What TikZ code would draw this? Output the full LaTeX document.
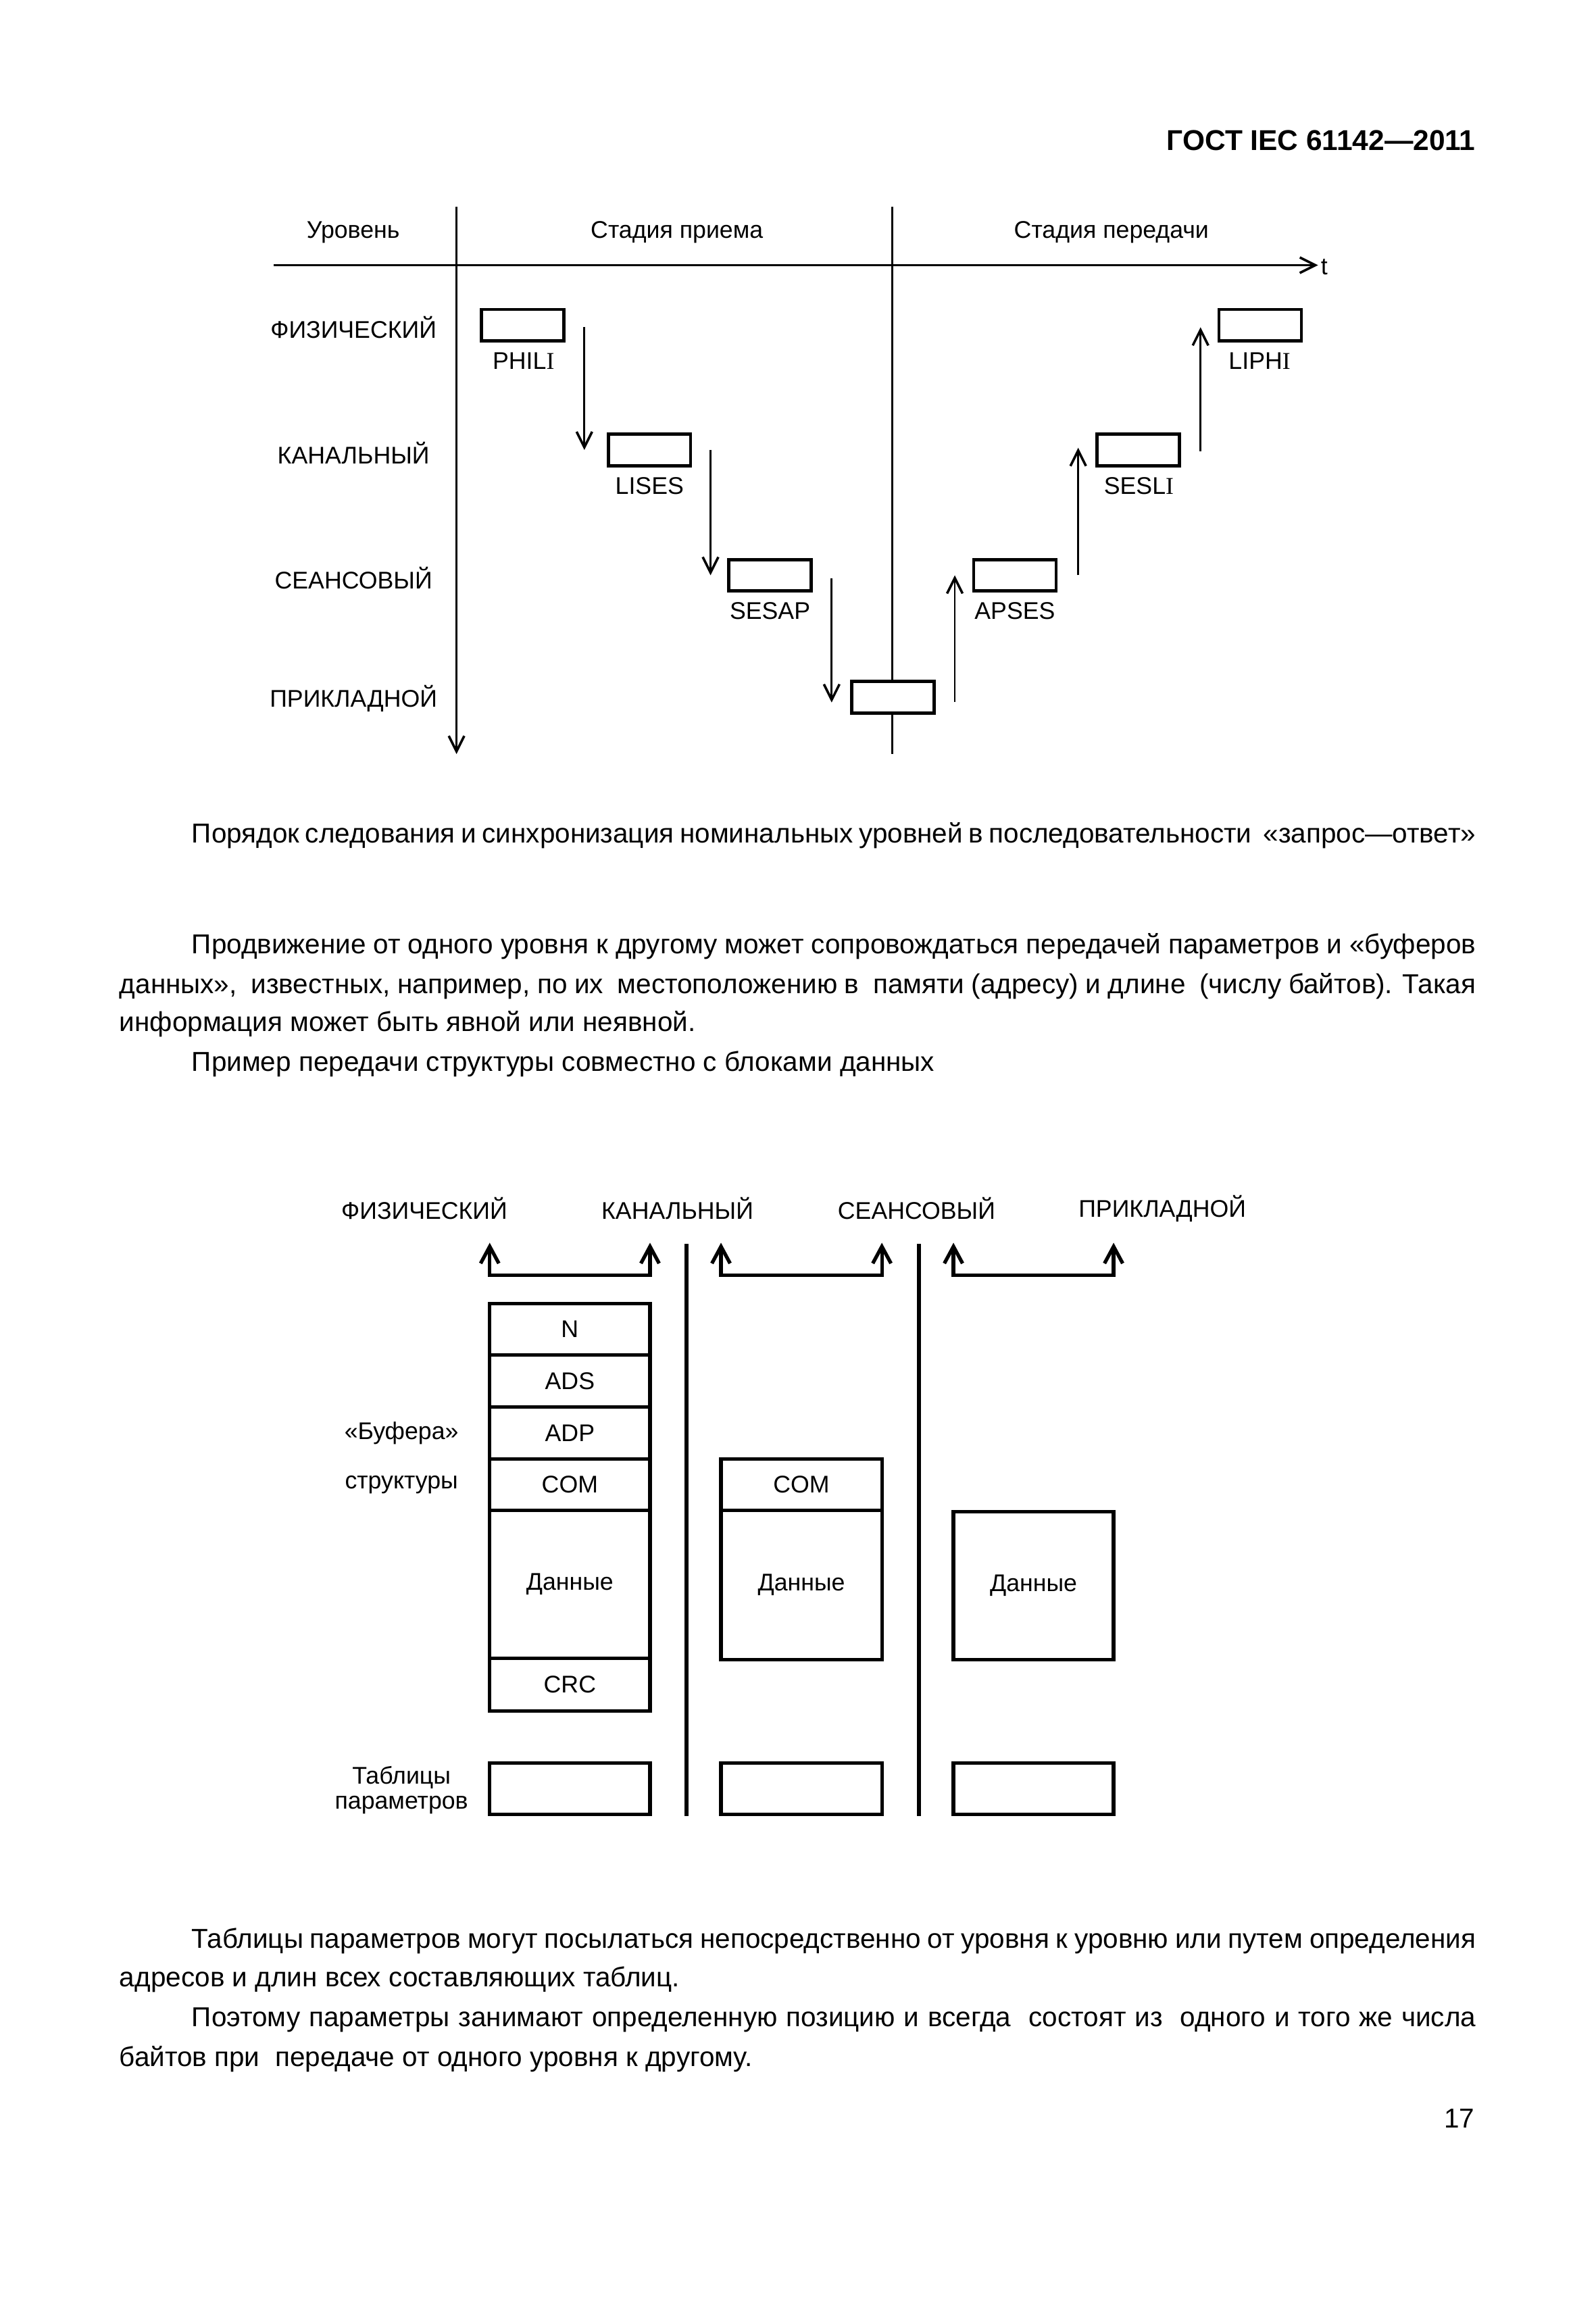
\documentclass[tikz,border=0pt]{standalone}
\usepackage{fontspec}
\setmainfont{Liberation Sans}
\newfontfamily\serI{Liberation Serif}
\usetikzlibrary{arrows.meta,calc}
\newcommand\sI{{\serI I}}
\newcommand\lblfont{\fontsize{9}{10}\selectfont}
\newcommand\bodyfont{\fontsize{10.2}{12}\selectfont}
\newcommand\jline[3]{\makebox[{#1}][s]{#3}}
\begin{document}
\begin{tikzpicture}[x=0.5507pt,y=-0.5507pt,
  lbl/.style={font=\lblfont, inner sep=0pt, outer sep=0pt},
  body/.style={font=\bodyfont, inner sep=0pt, outer sep=0pt, anchor=base west},
  tb/.style={draw, line width=1.2pt, fill=white, inner sep=0pt, outer sep=0pt,
     minimum width={55.8*0.5507pt}, minimum height={21.3*0.5507pt}},
  bx/.style={draw, line width=1.33pt, fill=white, inner sep=0pt, outer sep=0pt,
     minimum width={108.6*0.5507pt}, font=\lblfont},
  ax/.style={line width=0.9pt},
  arr/.style={line width=0.7pt, -{Straight Barb[length=5.8pt,width=5.8pt,line width=0.9pt]}},
  brk/.style={line width=1.33pt, line join=miter,
     {Straight Barb[length=6.3pt,width=6.8pt]}-{Straight Barb[length=6.3pt,width=6.8pt]}},
  sepl/.style={line width=1.45pt}
]
\fill[white] (0,0) rectangle (1081,1568);
\path[use as bounding box] (0,0) rectangle (1081,1568);

% page header
\node[font=\fontsize{10.7}{12}\selectfont\bfseries, inner sep=0pt, anchor=base east] (hdr) at (1000,102) {ГОСТ IEC 61142—2011};

% ---------- top diagram ----------
\coordinate (axL) at (185.6,179.7);
\coordinate (axR) at (893,179.7);
\coordinate (v1t) at (309.3,140);
\coordinate (v1b) at (309.3,511);
\coordinate (v2t) at (604.5,140);
\coordinate (v2b) at (604.5,511);
\draw[ax, -{Straight Barb[length=5.8pt,width=5.8pt]}] (axL) -- (axR);
\node[lbl, anchor=west] (tlab) at (895,181) {t};
\draw[ax, -{Straight Barb[length=5.8pt,width=5.8pt]}] (v1t) -- (v1b);
\draw[ax] (v2t) -- (v2b);

\node[lbl] (h1) at (239.3,157.4) {Уровень};
\node[lbl] (h2) at (458.6,157.4) {Стадия приема};
\node[lbl] (h3) at (753,157.4) {Стадия передачи};

\node[lbl] (r1) at (239.5,221.7) {ФИЗИЧЕСКИЙ};
\node[lbl] (r2) at (239.5,307) {КАНАЛЬНЫЙ};
\node[lbl] (r3) at (239.5,391.7) {СЕАНСОВЫЙ};
\node[lbl] (r4) at (239.5,473.2) {ПРИКЛАДНОЙ};

\node[tb] (phili) at (354,220.3) {};
\node[tb] (lises) at (440,304.9) {};
\node[tb] (sesap) at (521.6,389.8) {};
\node[tb] (app)   at (605,472.5) {};
\node[tb] (apses) at (687.6,389.8) {};
\node[tb] (sesli) at (771.3,304.9) {};
\node[tb] (liphi) at (853.8,220.3) {};

\node[lbl] (philiL) at (354.7,244.4) {PHIL\sI};
\node[lbl] (lisesL) at (440.1,329.2) {LISES};
\node[lbl] (sesapL) at (521.7,414) {SESAP};
\node[lbl] (apsesL) at (687.6,414) {APSES};
\node[lbl] (sesliL) at (771.6,329.2) {SESL\sI};
\node[lbl] (liphiL) at (853.4,244.4) {LIPH\sI};

\coordinate (a1) at ($(phili.east)+(14,1.4)$);
\draw[arr] (a1) -- (a1 |- lises.center);
\coordinate (a2) at ($(lises.east)+(13.5,0)$);
\draw[arr] (a2) -- (a2 |- sesap.center);
\coordinate (a3) at ($(sesap.east)+(14,2)$);
\draw[arr] (a3) -- ($(a3 |- app.center)+(0,3.5)$);
\coordinate (a4) at ($(app.east)+(14,3)$);
\draw[arr] (a4) -- (a4 |- apses.center);
\coordinate (a5) at ($(apses.east)+(15,0)$);
\draw[arr] (a5) -- ($(a5 |- sesli.center)+(0,-1.5)$);
\coordinate (a6) at ($(sesli.east)+(14.2,0.8)$);
\draw[arr] (a6) -- ($(a6 |- liphi.center)+(0,1.4)$);

% ---------- text ----------
\node[body] (cap) at (130,571) {\jline{479.1pt}{}{Порядок следования и синхронизация номинальных уровней в последовательности \ «запрос—ответ»}};
\node[body] (p1) at (130,646) {\jline{479.1pt}{}{Продвижение от одного уровня к другому может сопровождаться передачей параметров и «буферов}};
\node[body] (p2) at (81,673) {\jline{506.1pt}{}{данных», \ известных, например, по их \ местоположению в \ памяти (адресу) и длине \ (числу байтов). Такая}};
\node[body] (p3) at (81,699) {информация может быть явной или неявной.};
\node[body] (p4) at (130,726) {Пример передачи структуры совместно с блоками данных};

\node[body] (q1) at (130,1320) {\jline{479.1pt}{}{Таблицы параметров могут посылаться непосредственно от уровня к уровню или путем определения}};
\node[body] (q2) at (81,1346) {адресов и длин всех составляющих таблиц.};
\node[body] (q3) at (130,1373) {\jline{479.1pt}{}{Поэтому параметры занимают определенную позицию и всегда \ состоят из \ одного и того же числа}};
\node[body] (q4) at (81,1400) {байтов при \ передаче от одного уровня к другому.};
\node[body, anchor=base east] (pg) at (999,1442) {17};

% ---------- bottom diagram ----------
\node[lbl] (b1) at (287.5,819) {ФИЗИЧЕСКИЙ};
\node[lbl] (b2) at (459,819) {КАНАЛЬНЫЙ};
\node[lbl] (b3) at (621,819) {СЕАНСОВЫЙ};
\node[lbl] (b4) at (787.5,819) {ПРИКЛАДНОЙ};

% column 1
\node[bx, minimum height={34.7*0.5507pt}] (n1) at (386.1,900.65) {N};
\node[bx, minimum height={35.5*0.5507pt}] (n2) at (386.1,935.75) {ADS};
\node[bx, minimum height={35*0.5507pt}] (n3) at (386.1,971) {ADP};
\node[bx, minimum height={34.9*0.5507pt}] (n4) at (386.1,1005.95) {COM};
\node[bx, minimum height={100.4*0.5507pt}] (n5) at (386.1,1073.6) {Данные};
\node[bx, minimum height={35.6*0.5507pt}] (n6) at (386.1,1141.6) {CRC};
% column 2
\node[bx, minimum width={109*0.5507pt}, minimum height={34.9*0.5507pt}] (m1) at (543,1005.95) {COM};
\node[bx, minimum width={109*0.5507pt}, minimum height={101.1*0.5507pt}] (m2) at (543,1073.95) {Данные};
% column 3
\node[bx, minimum width={108.5*0.5507pt}, minimum height={100.2*0.5507pt}] (k1) at (700.25,1074.4) {Данные};
% tables
\node[bx, minimum height={35*0.5507pt}] (tt1) at (386.1,1212) {};
\node[bx, minimum width={109*0.5507pt}, minimum height={35*0.5507pt}] (tt2) at (543,1212) {};
\node[bx, minimum width={108.5*0.5507pt}, minimum height={35*0.5507pt}] (tt3) at (700.25,1212) {};

\node[lbl] (buf) at (272,971) {«Буфера»};
\node[lbl] (str) at (272,1006) {структуры};
\node[lbl, align=center] (tabl) at (272,1213) {Таблицы\\[-0.5pt]параметров};

% brackets
\coordinate (btip) at (0,842.1);
\coordinate (bbase) at (0,864.2);
\draw[brk] (n1.north west |- btip) -- (n1.north west |- bbase) -- (n1.north east |- bbase) -- (n1.north east |- btip);
\draw[brk] (m1.north west |- btip) -- (m1.north west |- bbase) -- (m1.north east |- bbase) -- (m1.north east |- btip);
\draw[brk] (k1.north west |- btip) -- (k1.north west |- bbase) -- (k1.north east |- bbase) -- (k1.north east |- btip);

% separators
\coordinate (s1t) at (465.3,842.9);
\coordinate (s1b) at (465.3,1230.5);
\coordinate (s2t) at (622.5,842.9);
\coordinate (s2b) at (622.5,1230.5);
\draw[sepl] (s1t) -- (s1b);
\draw[sepl] (s2t) -- (s2b);
\end{tikzpicture}
\end{document}
